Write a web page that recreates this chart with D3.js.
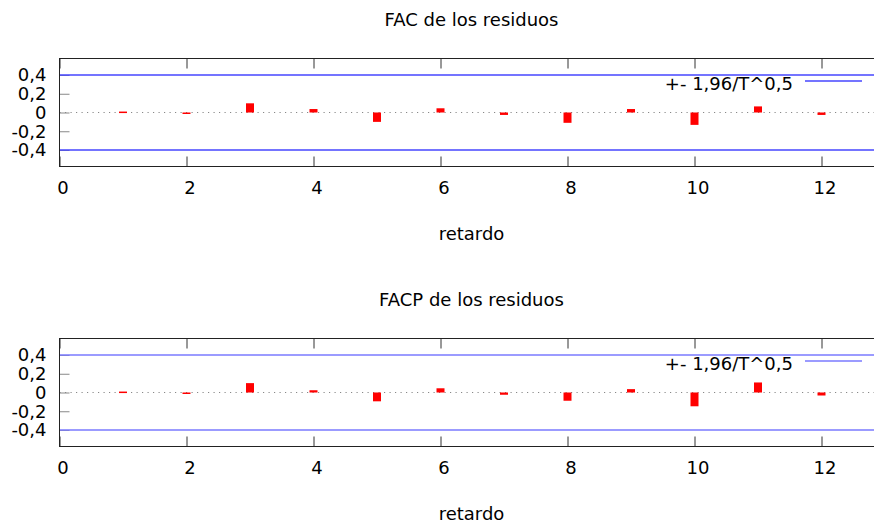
<!DOCTYPE html>
<html>
<head>
<meta charset="utf-8">
<script src="https://cdn.jsdelivr.net/npm/d3@7/dist/d3.min.js"></script>
<style>
  html, body { margin: 0; padding: 0; background: #fff; }
  svg { display: block; font-family: "DejaVu Sans", sans-serif; }
</style>
</head>
<body>
<svg id="chart" width="874" height="523"></svg>
<script>
// Residual autocorrelations by lag
const lags = [1, 2, 3, 4, 5, 6, 7, 8, 9, 10, 11, 12];
const facValues  = [0.010, -0.014, 0.098, 0.037, -0.100, 0.045, -0.026, -0.110, 0.037, -0.132, 0.065, -0.026];
const facpValues = [0.010, -0.014, 0.100, 0.024, -0.094, 0.045, -0.024, -0.088, 0.036, -0.147, 0.107, -0.032];

// Significance band +- 1.96/sqrt(T)
const bandValue = 0.4;
const bandLabel = "+- 1,96/T^0,5";

const panelTitles = ["FAC de los residuos", "FACP de los residuos"];
const xAxisLabel = "retardo";
const xTicks = [0, 2, 4, 6, 8, 10, 12];
const yTicks = [0.4, 0.2, 0, -0.2, -0.4];

const svg = d3.select("#chart");
const locale = d3.formatLocale({ decimal: ",", thousands: ".", grouping: [3], currency: ["", ""], minus: "-" });
const fmtY = v => (v === 0 ? "0" : locale.format(".1f")(v));

const panels = [
  { title: panelTitles[0], values: facValues, top: 58.5, band: "#4646ff" },
  { title: panelTitles[1], values: facpValues, top: 338.5, band: "#7a7aff" }
];

const left = 59.5, plotH = 108;
const x = d3.scaleLinear().domain([0, 13]).range([left, left + 63.5 * 13]);

panels.forEach(p => {
  const g = svg.append("g");
  const y = d3.scaleLinear().domain([-0.576, 0.576]).range([p.top + plotH, p.top]);
  const right = x.range()[1];

  // title
  g.append("text").attr("x", 471.5).attr("y", p.top - 32.5)
    .attr("text-anchor", "middle").attr("font-size", 18).attr("fill", "#000")
    .text(p.title);

  // zero line
  g.append("line").attr("x1", left).attr("x2", right)
    .attr("y1", y(0)).attr("y2", y(0))
    .attr("stroke", "#888").attr("stroke-width", 1).attr("stroke-dasharray", "1.2,4.3");

  // y axis: inward ticks, mirrored on right
  const yAxis = d3.axisLeft(y).tickValues(yTicks).tickFormat(fmtY).tickSize(-10).tickPadding(13);
  const ya = g.append("g").attr("transform", `translate(${left},0)`).call(yAxis);
  ya.select(".domain").remove();
  ya.selectAll(".tick line").attr("stroke", "#888");
  ya.selectAll(".tick text").attr("font-size", 18).attr("fill", "#000")
    .attr("font-family", "DejaVu Sans, sans-serif");
  const yr = g.append("g").attr("transform", `translate(${right},0)`)
    .call(d3.axisRight(y).tickValues(yTicks).tickFormat("").tickSize(-10));
  yr.select(".domain").remove();
  yr.selectAll(".tick line").attr("stroke", "#888");

  // x axis: inward ticks on bottom and top
  const xb = g.append("g").attr("transform", `translate(0,${p.top + plotH})`)
    .call(d3.axisBottom(x).tickValues(xTicks).tickFormat(d3.format("d")).tickSize(-10).tickPadding(15));
  xb.select(".domain").remove();
  xb.selectAll(".tick line").attr("stroke", "#333");
  xb.selectAll(".tick text").attr("font-size", 18).attr("fill", "#000")
    .attr("font-family", "DejaVu Sans, sans-serif").attr("dx", 3);
  const xt = g.append("g").attr("transform", `translate(0,${p.top})`)
    .call(d3.axisTop(x).tickValues(xTicks).tickFormat("").tickSize(-10));
  xt.select(".domain").remove();
  xt.selectAll(".tick line").attr("stroke", "#333");

  // significance band
  [bandValue, -bandValue].forEach(b => {
    g.append("line").attr("x1", left).attr("x2", right)
      .attr("y1", y(b)).attr("y2", y(b))
      .attr("stroke", p.band).attr("stroke-width", 1.3);
  });

  // bars
  g.selectAll("rect.bar").data(lags.map((l, i) => ({ lag: l, v: p.values[i] })))
    .enter().append("rect").attr("class", "bar")
    .attr("x", d => x(d.lag) - 4).attr("width", 8)
    .attr("y", d => Math.min(y(0), y(d.v)))
    .attr("height", d => Math.max(1.5, Math.abs(y(d.v) - y(0))))
    .attr("fill", "#ff0000");

  // legend
  g.append("text").attr("x", 793).attr("y", p.top + 31)
    .attr("text-anchor", "end").attr("font-size", 18).attr("fill", "#000")
    .text(bandLabel);
  g.append("line").attr("x1", 805).attr("x2", 862)
    .attr("y1", p.top + 22.5).attr("y2", p.top + 22.5)
    .attr("stroke", p.band).attr("stroke-width", 1.3);

  // frame
  g.append("rect").attr("x", left).attr("y", p.top)
    .attr("width", right - left).attr("height", plotH)
    .attr("fill", "none").attr("stroke", "#222").attr("stroke-width", 1);

  // x axis label
  g.append("text").attr("x", 471.5).attr("y", p.top + plotH + 73)
    .attr("text-anchor", "middle").attr("font-size", 18).attr("fill", "#000")
    .text(xAxisLabel);
});
</script>
</body>
</html>
